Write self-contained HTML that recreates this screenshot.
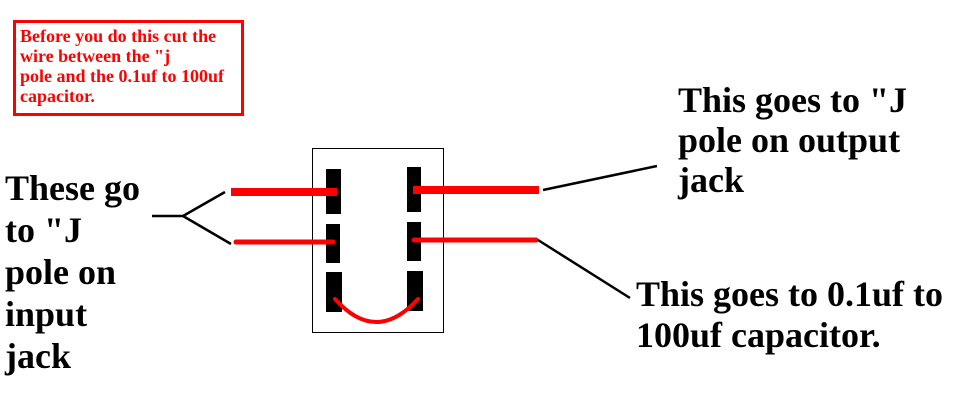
<!DOCTYPE html>
<html><head><meta charset="utf-8"><style>
html,body{margin:0;padding:0;background:#fff;width:977px;height:416px;overflow:hidden;position:relative}
.t{position:absolute;font-family:"Liberation Serif",serif;font-weight:bold;font-size:36px;color:#000;white-space:nowrap;line-height:41px}
.note{position:absolute;left:13px;top:20px;width:221px;height:87px;border:3px solid #f00;font-family:"Liberation Serif",serif;font-size:18px;color:#f00;line-height:20px;padding:3px 0 0 4px;box-sizing:content-box;font-weight:bold;white-space:nowrap;overflow:hidden}
</style></head><body>
<div class="note">Before you do this cut the<br>wire between the "j<br>pole and the 0.1uf to 100uf<br>capacitor.</div>
<svg width="977" height="416" style="position:absolute;left:0;top:0">
<rect x="312.5" y="148.5" width="131" height="184" fill="none" stroke="#000" stroke-width="1"/>
<rect x="326" y="169" width="15" height="45" fill="#000"/>
<rect x="326" y="224" width="14" height="39" fill="#000"/>
<rect x="326" y="272" width="16" height="40" fill="#000"/>
<rect x="407" y="167" width="14" height="45" fill="#000"/>
<rect x="407" y="222" width="14" height="39" fill="#000"/>
<rect x="407" y="271" width="16" height="40" fill="#000"/>
<line x1="231" y1="192" x2="337" y2="192" stroke="#f00" stroke-width="8"/>
<line x1="236" y1="242" x2="333" y2="242" stroke="#f00" stroke-width="5" stroke-linecap="round"/>
<line x1="413" y1="190" x2="539" y2="190" stroke="#f00" stroke-width="8"/>
<line x1="414" y1="240" x2="536" y2="240" stroke="#f00" stroke-width="5" stroke-linecap="round"/>
<path d="M335 299 Q376 345 418 299" fill="none" stroke="#f00" stroke-width="4" stroke-linecap="round"/>
<g stroke="#000" stroke-width="2.5">
<line x1="152" y1="216" x2="183" y2="216"/>
<line x1="183" y1="216" x2="225" y2="192"/>
<line x1="183" y1="216" x2="231" y2="244"/>
<line x1="543" y1="190" x2="657" y2="166"/>
<line x1="538" y1="240" x2="630" y2="298"/>
</g>
</svg>
<div class="t" style="left:5px;top:167px;line-height:42px">These go<br>to "J<br>pole on<br>input<br>jack</div>
<div class="t" style="left:678px;top:80px;line-height:40px">This goes to "J<br>pole on output<br>jack</div>
<div class="t" style="left:636px;top:274px;line-height:41px">This goes to 0.1uf to<br>100uf capacitor.</div>
</body></html>
